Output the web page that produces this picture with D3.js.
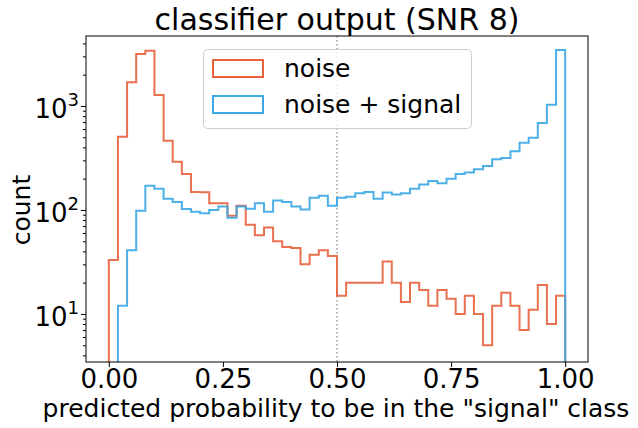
<!DOCTYPE html>
<html><head><meta charset="utf-8">
<script src="https://cdn.jsdelivr.net/npm/d3@7"></script>
<style>
html,body{margin:0;padding:0;background:#fff;}
text{font-family:"DejaVu Sans",sans-serif;fill:#000;}
</style></head>
<body><svg id="c" width="638" height="428"></svg>
<script>
const binStart = 0, binWidth = 0.02;
const noise = [33,507,1690,3160,3400,1275,464,291,222,149,148,116,116,88,110,72,57,68,50,44,43,30,37,41,36,15,20,20,20,20,32,20,13,20,17,12,17,14,10,15,10,5,12,16,12,7,11,19,8,15];
const signal = [0,12,41,98,171,160,128,119,102,96,93,100,108,84,108,103,116,96,123,119,108,101,131,137,110,131,134,145,149,128,147,141,145,160,176,190,181,200,222,229,246,265,307,316,367,444,496,686,1030,3460];
const xTicks = [0, 0.25, 0.5, 0.75, 1.0];
const xTickLabels = ["0.00","0.25","0.50","0.75","1.00"];
const yTicks = [10, 100, 1000];
const yTickExp = ["1","2","3"];
const seriesNames = ["noise", "noise + signal"];
const colors = ["#e8603c", "#3aa6e4"];

const svg = d3.select("#c");
const L = 86, R = 588, T = 36, B = 362;
const x = d3.scaleLinear().domain([-0.05, 1.05]).range([L, R]);
const y = d3.scaleLog().domain([3.45, 4710]).range([B, T]);

svg.append("defs").append("clipPath").attr("id","clip")
  .append("rect").attr("x",L).attr("y",T).attr("width",R-L).attr("height",B-T);

// dotted line at 0.5
svg.append("line").attr("x1",x(0.5)).attr("x2",x(0.5)).attr("y1",T).attr("y2",B)
  .attr("stroke","#999").attr("stroke-width",1.5).attr("stroke-dasharray","1.5,2.5");

function stepPts(vals){
  const pts = [];
  const yv = v => v > 0 ? y(v) : B + 20;
  pts.push([x(binStart), B + 20]);
  vals.forEach((v,i) => {
    const x0 = binStart + i*binWidth, x1 = x0 + binWidth;
    pts.push([x(x0), yv(v)]); pts.push([x(x1), yv(v)]);
  });
  pts.push([x(binStart + vals.length*binWidth), B + 20]);
  return pts;
}
const line = d3.line();
[noise, signal].forEach((vals, k) => {
  svg.append("path").attr("clip-path","url(#clip)")
    .attr("d", line(stepPts(vals)))
    .attr("fill","none").attr("stroke",colors[k]).attr("stroke-width",2)
    .attr("stroke-opacity",0.9).attr("stroke-linejoin","miter");
});

// axes
const xAxis = svg.append("g").attr("transform",`translate(0,${B})`)
  .call(d3.axisBottom(x).tickValues(xTicks).tickFormat((d,i)=>xTickLabels[i]).tickSize(5).tickPadding(3));
xAxis.select(".domain").remove();
xAxis.selectAll("text").attr("font-size",26).attr("font-family","DejaVu Sans").attr("fill","#000");
xAxis.selectAll("line").attr("stroke","#000");

const minorVals = [];
[1,10,100,1000].forEach(dec => { for (let m=2;m<=9;m++){ const v=dec*m; if (v>=3.45 && v<=4710) minorVals.push(v);} });
const yMinor = svg.append("g").attr("transform",`translate(${L},0)`)
  .call(d3.axisLeft(y).tickValues(minorVals).tickFormat("").tickSize(3));
yMinor.select(".domain").remove();
yMinor.selectAll("line").attr("stroke","#000");
const yAxis = svg.append("g").attr("transform",`translate(${L},0)`)
  .call(d3.axisLeft(y).tickValues(yTicks).tickFormat("").tickSize(5));
yAxis.select(".domain").remove();
yAxis.selectAll("line").attr("stroke","#000");
yAxis.selectAll(".tick").each(function(d,i){
  const t = d3.select(this).append("text").attr("x",-7).attr("dy","0.45em")
    .attr("text-anchor","end").attr("font-size",26).attr("fill","#000");
  t.append("tspan").text("10");
  t.append("tspan").attr("font-size",18).attr("dy","-0.7em").text(yTickExp[i]);
});

// frame
svg.append("rect").attr("x",L).attr("y",T).attr("width",R-L).attr("height",B-T)
  .attr("fill","none").attr("stroke","#000").attr("stroke-width",1);

// labels
svg.append("text").attr("x",(L+R)/2).attr("y",30).attr("text-anchor","middle")
  .attr("font-size",30).text("classifier output (SNR 8)");
svg.append("text").attr("x",336).attr("y",417).attr("text-anchor","middle")
  .attr("font-size",25).text('predicted probability to be in the "signal" class');
svg.append("text").attr("transform",`translate(30,210) rotate(-90)`).attr("text-anchor","middle")
  .attr("font-size",25).text("count");

// legend
const lg = svg.append("g");
lg.append("rect").attr("x",203.5).attr("y",49.5).attr("width",268).attr("height",79).attr("rx",4)
  .attr("fill","#fff").attr("fill-opacity",0.8).attr("stroke","#ccc").attr("stroke-width",1);
seriesNames.forEach((n,k)=>{
  const yy = 68.5 + k*36;
  lg.append("rect").attr("x",213).attr("y",yy-8.5).attr("width",50).attr("height",17)
    .attr("fill","none").attr("stroke",colors[k]).attr("stroke-width",2);
  lg.append("text").attr("x",284).attr("y",yy).attr("dy","0.35em").attr("font-size",25).text(n);
});
</script></body></html>
